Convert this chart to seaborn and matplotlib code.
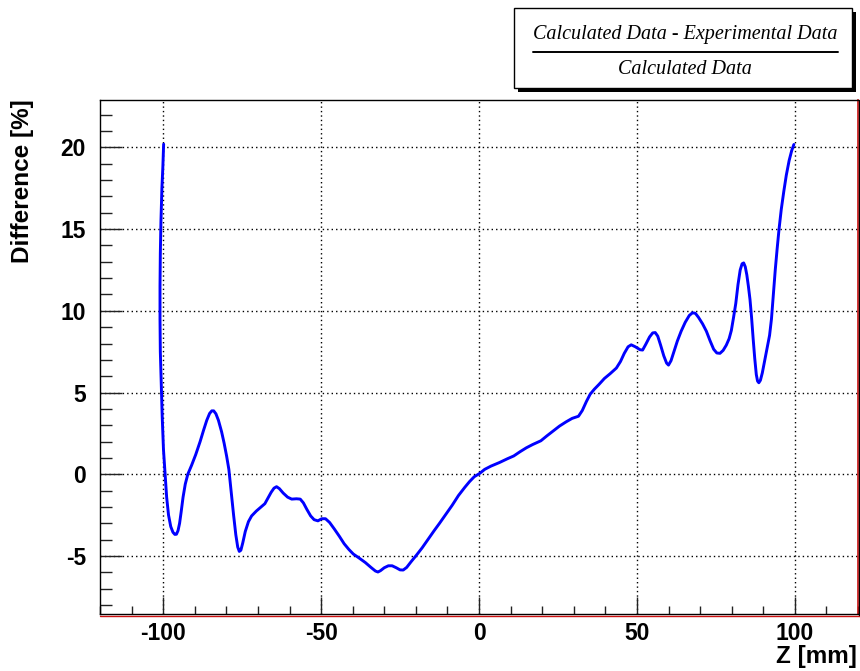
import matplotlib
matplotlib.use("Agg")
import matplotlib.pyplot as plt
from matplotlib.ticker import MultipleLocator
from matplotlib.patches import Rectangle
from matplotlib.lines import Line2D
import pandas as pd
import seaborn as sns

# Relative difference along the Z axis (mm, %)
z_mm = [
    -99.85, -100.1, -100.4, -100.7, -100.9, -101.0, -101.0, -100.9, -100.6, -100.3,
    -99.9, -99.4, -98.9, -98.3, -97.6, -96.9, -96.3, -95.8, -95.3, -94.8,
    -94.3, -93.7, -93.0, -92.2, -91.0, -89.7, -88.3, -87.2, -86.2, -85.3,
    -84.6, -84.0, -83.3, -82.5, -81.5, -80.7, -79.9, -79.2, -78.5, -77.7,
    -77.0, -76.4, -75.9, -75.4, -74.8, -74.0, -73.0, -72.0, -70.5, -69.0,
    -67.8, -66.8, -65.8, -64.9, -64.1, -63.2, -62.0, -60.6, -59.3, -57.8,
    -56.6, -55.6, -54.5, -53.3, -52.2, -51.0, -49.8, -48.6, -47.3, -45.8,
    -44.2, -42.7, -41.2, -39.8, -38.0, -36.0, -34.2, -32.8, -32.0, -31.2,
    -30.0, -28.7, -27.5, -26.2, -25.0, -24.0, -22.9, -21.5, -19.8, -18.0,
    -16.0, -14.2, -12.5, -10.5, -8.5, -6.5, -4.5, -3.0, -1.5, 0.2,
    1.8, 3.8, 6.5, 9.0, 11.0, 13.0, 15.0, 17.0, 19.6, 21.5,
    23.5, 25.5, 27.6, 29.5, 31.5, 32.7, 34.0, 35.2, 36.5, 38.0,
    39.7, 41.5, 43.5, 44.8, 46.0, 47.2, 48.2, 49.5, 51.0, 51.8,
    52.8, 54.0, 55.0, 55.8, 56.6, 57.5, 58.5, 59.4, 60.0, 60.8,
    61.8, 62.8, 64.0, 65.3, 66.6, 67.6, 68.5, 69.5, 70.8, 72.0,
    73.2, 74.3, 75.3, 76.3, 77.3, 78.3, 79.2, 79.9, 80.6, 81.3,
    82.0, 82.7, 83.3, 83.8, 84.3, 84.8, 85.3, 85.8, 86.3, 86.8,
    87.3, 87.8, 88.2, 88.6, 89.1, 89.7, 90.5, 91.3, 92.0, 92.6,
    93.2, 93.8, 94.4, 95.0, 95.7, 96.5, 97.3, 98.2, 99.0, 99.7,
]
diff_pct = [
    20.2, 18.8, 17.5, 15.5, 13.5, 11.5, 9.5, 7.5, 5.5, 3.5,
    1.5, 0.0, -1.4, -2.5, -3.2, -3.55, -3.68, -3.67, -3.45, -3.0,
    -2.3, -1.4, -0.6, 0.0, 0.55, 1.2, 2.0, 2.7, 3.3, 3.72,
    3.88, 3.88, 3.7, 3.3, 2.6, 1.9, 1.1, 0.3, -1.0, -2.5,
    -3.7, -4.45, -4.72, -4.65, -4.2, -3.5, -2.9, -2.55, -2.25, -2.0,
    -1.8, -1.45, -1.1, -0.85, -0.76, -0.88, -1.15, -1.4, -1.52, -1.5,
    -1.52, -1.75, -2.15, -2.55, -2.78, -2.85, -2.72, -2.72, -2.95, -3.35,
    -3.8, -4.25, -4.6, -4.88, -5.12, -5.4, -5.7, -5.92, -5.98, -5.9,
    -5.72, -5.6, -5.6, -5.72, -5.85, -5.86, -5.7, -5.35, -4.95, -4.5,
    -3.95, -3.45, -3.0, -2.45, -1.9, -1.3, -0.8, -0.45, -0.15, 0.05,
    0.3, 0.5, 0.72, 0.95, 1.12, 1.38, 1.62, 1.82, 2.05, 2.35,
    2.65, 2.95, 3.21, 3.42, 3.55, 3.9, 4.45, 4.9, 5.2, 5.5,
    5.86, 6.15, 6.5, 6.9, 7.4, 7.8, 7.92, 7.8, 7.62, 7.6,
    7.95, 8.4, 8.65, 8.67, 8.45, 7.9, 7.25, 6.8, 6.68, 6.95,
    7.55, 8.15, 8.75, 9.3, 9.72, 9.88, 9.85, 9.6, 9.2, 8.75,
    8.15, 7.65, 7.42, 7.4, 7.58, 7.9, 8.3, 8.8, 9.6, 10.45,
    11.6, 12.5, 12.88, 12.93, 12.7, 12.2, 11.5, 10.7, 9.6, 8.3,
    7.1, 6.1, 5.7, 5.6, 5.75, 6.2, 7.0, 7.8, 8.5, 9.5,
    11.0, 12.5, 13.8, 15.0, 16.2, 17.3, 18.3, 19.2, 19.8, 20.18,
]

sns.set_style("white")
plt.rcParams["font.family"] = ["Liberation Sans", "DejaVu Sans"]
plt.rcParams["axes.unicode_minus"] = False
plt.rcParams["text.color"] = "black"
plt.rcParams["xtick.color"] = "black"
plt.rcParams["ytick.color"] = "black"

W, H = 860, 671
fig = plt.figure(figsize=(W / 100, H / 100), dpi=100)
ax = fig.add_axes([100 / W, 1 - 614 / H, 758 / W, 514 / H])

df = pd.DataFrame({"z": z_mm, "diff": diff_pct})
sns.lineplot(data=df, x="z", y="diff", sort=False, estimator=None,
             color="#0000ff", linewidth=2.1, ax=ax, zorder=3,
             solid_joinstyle="round", solid_capstyle="round")

ax.set_xlim(-120, 120)
ax.set_ylim(-8.55, 22.9)
ax.xaxis.set_major_locator(MultipleLocator(50))
ax.xaxis.set_minor_locator(MultipleLocator(10))
ax.yaxis.set_major_locator(MultipleLocator(5))
ax.yaxis.set_minor_locator(MultipleLocator(1))
ax.grid(True, which="major", color="black", linestyle=(0, (1, 2.2)), linewidth=1.0)
ax.set_axisbelow(True)

ax.tick_params(which="both", direction="in", bottom=True, left=True,
               top=False, right=False, color="#222222", width=1.0,
               labelsize=16.5, labelcolor="black")
ax.tick_params(axis="x", which="major", length=12, pad=6)
ax.tick_params(axis="x", which="minor", length=5.5)
ax.tick_params(axis="y", which="major", length=15.5, pad=10)
ax.tick_params(axis="y", which="minor", length=8.5)
for lab in ax.get_xticklabels() + ax.get_yticklabels():
    lab.set_fontweight("bold")

ax.set_xlabel("")
ax.set_ylabel("")
for side in ("left", "top", "bottom"):
    ax.spines[side].set_color("black")
    ax.spines[side].set_linewidth(1.0)
ax.spines["right"].set_color("#cc1111")
ax.spines["right"].set_linewidth(1.2)

# frame shadow along the right and bottom edges
fig.add_artist(Line2D([858.5 / W, 858.5 / W], [1 - 100 / H, 1 - 615.5 / H],
                      transform=fig.transFigure, color="black", lw=1.0))
fig.add_artist(Line2D([100 / W, 858.5 / W], [1 - 615.5 / H, 1 - 615.5 / H],
                      transform=fig.transFigure, color="#cc1111", lw=1.0))

fig.text(23 / W, 1 - 99 / H, "Difference [%]", rotation=90, ha="center", va="top",
         fontsize=17.5, fontweight="bold")
fig.text(857 / W, 1 - 656 / H, "Z [mm]", ha="right", va="center",
         fontsize=17.5, fontweight="bold")

# formula box with drop shadow
fig.add_artist(Rectangle((518 / W, 1 - 92 / H), 338 / W, 80 / H,
                         transform=fig.transFigure, facecolor="black",
                         edgecolor="black", lw=0))
fig.add_artist(Rectangle((514 / W, 1 - 88 / H), 338 / W, 80 / H,
                         transform=fig.transFigure, facecolor="white",
                         edgecolor="black", lw=1.0))
fig.add_artist(Line2D([533 / W, 838 / W], [1 - 52 / H, 1 - 52 / H],
                      transform=fig.transFigure, color="black", lw=1.4))
serif = ["Liberation Serif", "DejaVu Serif"]
fig.text(685 / W, 1 - 35 / H, "Calculated Data - Experimental Data", ha="center",
         va="center", fontsize=14.5, style="italic", family=serif)
fig.text(685 / W, 1 - 70 / H, "Calculated Data", ha="center", va="center",
         fontsize=14.5, style="italic", family=serif)

fig.savefig("out.png", dpi=100)
